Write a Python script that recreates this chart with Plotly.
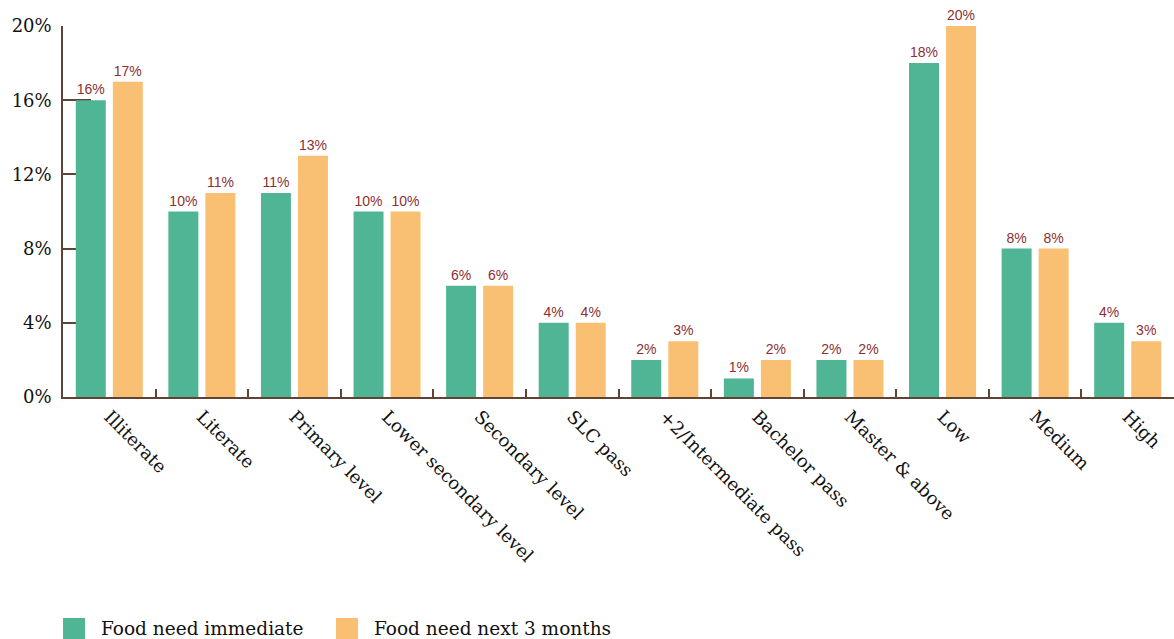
import plotly.graph_objects as go

categories = [
    "Illiterate", "Literate", "Primary level", "Lower secondary level",
    "Secondary level", "SLC pass", "+2/Intermediate pass", "Bachelor pass",
    "Master & above", "Low", "Medium", "High",
]
food_need_immediate = [16, 10, 11, 10, 6, 4, 2, 1, 2, 18, 8, 4]
food_need_next_3_months = [17, 11, 13, 10, 6, 4, 3, 2, 2, 20, 8, 3]
y_ticks = [0, 4, 8, 12, 16, 20]

GREEN = "#50b594"
ORANGE = "#f9c074"
LABEL_RED = "#8b2f33"
AXIS_BROWN = "#5e4336"
SERIF = "DejaVu Serif"
SANS = "Liberation Sans"

series = [
    ("Food need immediate", food_need_immediate, GREEN),
    ("Food need next 3 months", food_need_next_3_months, ORANGE),
]

fig = go.Figure()
for name, vals, color in series:
    fig.add_trace(go.Bar(
        name=name,
        x=categories,
        y=vals,
        marker=dict(color=color, line=dict(width=0)),
        text=[f"{v}%" for v in vals],
        textposition="outside",
        textfont=dict(family=SANS, size=14, color=LABEL_RED),
        cliponaxis=False,
        showlegend=False,
    ))

# Legend drawn as swatches + text below the axis labels
W, H = 1174, 639
PLOT_L, PLOT_W, PLOT_B, PLOT_H = 63, W - 63, 397, 371
legend_items = [(63, series[0]), (336, series[1])]
for x0, (name, _, color) in legend_items:
    fig.add_shape(type="rect", xref="paper", yref="paper",
                  x0=(x0 - PLOT_L) / PLOT_W, x1=(x0 - PLOT_L + 22) / PLOT_W,
                  y0=(PLOT_B - 618) / PLOT_H, y1=(PLOT_B - 640) / PLOT_H,
                  fillcolor=color, line=dict(width=0))
    fig.add_annotation(xref="paper", yref="paper",
                       x=(x0 - PLOT_L + 36) / PLOT_W, y=(PLOT_B - 628) / PLOT_H,
                       xanchor="left", yanchor="middle", showarrow=False,
                       text=name, font=dict(family=SERIF, size=18.5, color="#111111"))

fig.update_layout(
    width=W, height=H,
    margin=dict(l=63, r=0, t=26, b=242),
    paper_bgcolor="white", plot_bgcolor="white",
    barmode="group", bargap=0.2, bargroupgap=0.19,
    font=dict(family=SERIF, color="#111111"),
)
fig.update_xaxes(
    type="category", tickson="boundaries",
    ticks="inside", ticklen=8, tickwidth=1.5, tickcolor=AXIS_BROWN,
    showline=True, linecolor=AXIS_BROWN, linewidth=2,
    showgrid=False, zeroline=False,
    tickangle=45, tickfont=dict(family=SERIF, size=18, color="#111111"),
    layer="below traces",
)
fig.update_yaxes(
    range=[0, 20], tickvals=y_ticks, ticktext=[f"{v}%" for v in y_ticks],
    ticks="inside", ticklen=28, tickwidth=1.5, tickcolor=AXIS_BROWN,
    showline=True, linecolor=AXIS_BROWN, linewidth=1.5,
    showgrid=False, zeroline=False,
    tickfont=dict(family=SERIF, size=18, color="#111111"),
    ticklabelstandoff=6,
    layer="below traces",
)

fig.write_html("out.html")
